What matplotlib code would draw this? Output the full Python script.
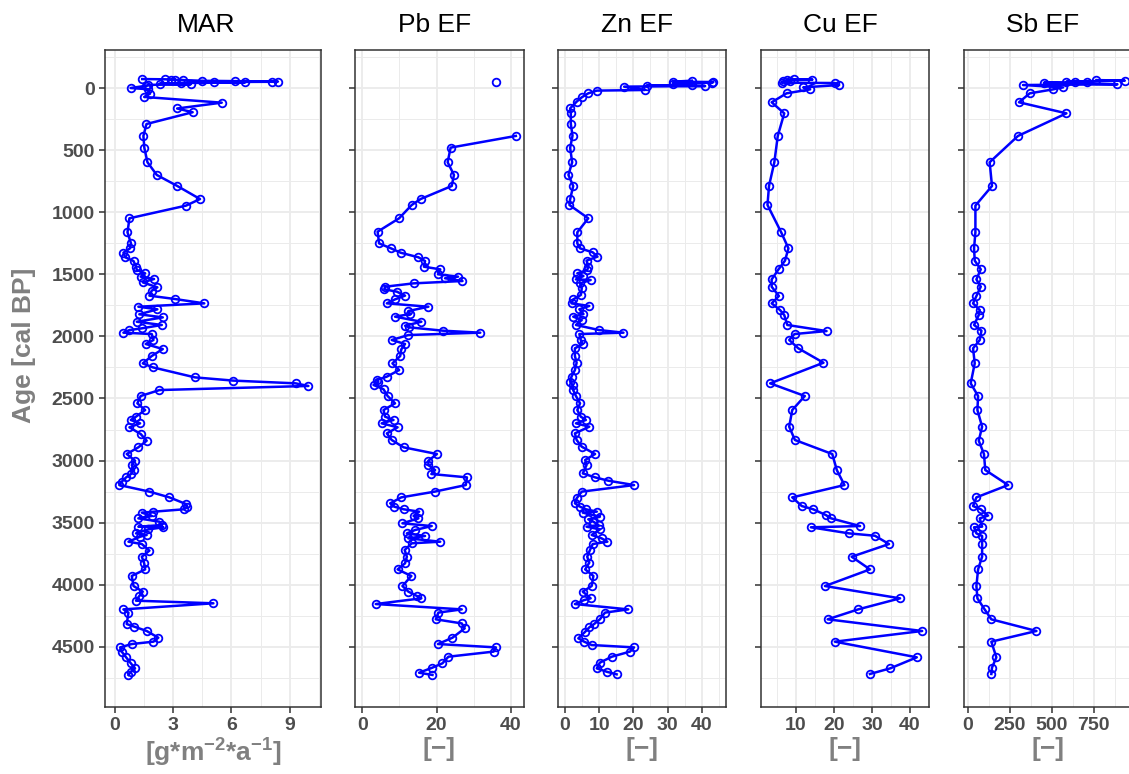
import numpy as np
import matplotlib
matplotlib.use("Agg")
import matplotlib.pyplot as plt

plt.rcParams["font.family"] = ["Liberation Sans", "DejaVu Sans"]
plt.rcParams["mathtext.fontset"] = "custom"
plt.rcParams["mathtext.rm"] = "Liberation Sans:bold"
plt.rcParams["mathtext.default"] = "rm"

# ---- data (age in cal BP, value) ----
mar_age = [-72, -70, -68, -66, -64, -58, -55, -52, -50, -48, -45, -40, -35, -30, -25, -18,
           0, 10, 46, 72, 118, 165, 195, 290, 386, 483, 598, 700, 789, 894, 947, 1049,
           1162, 1251, 1291, 1326, 1363, 1393, 1439, 1465, 1492, 1519, 1538, 1565, 1605,
           1632, 1672, 1699, 1734, 1761, 1782, 1822, 1847, 1882, 1908, 1935, 1949, 1970,
           1981, 2029, 2061, 2102, 2158, 2217, 2249, 2330, 2356, 2378, 2399, 2432, 2480,
           2539, 2593, 2646, 2673, 2700, 2732, 2786, 2840, 2893, 2947, 3001, 3036, 3076,
           3108, 3135, 3170, 3197, 3250, 3296, 3350, 3371, 3392, 3411, 3419, 3446, 3465,
           3492, 3519, 3532, 3537, 3554, 3586, 3599, 3613, 3653, 3672, 3725, 3774, 3827,
           3876, 3929, 4010, 4055, 4090, 4128, 4149, 4198, 4224, 4316, 4337, 4372, 4426,
           4458, 4477, 4504, 4538, 4584, 4632, 4673, 4700, 4726]
mar_val = [1.4, 2.6, 3.1, 2.9, 3.5, 4.5, 6.2, 8.4, 8.1, 5.1, 6.7, 3.4, 2.3, 3.9, 1.7, 1.6,
           0.8, 1.7, 1.8, 1.5, 5.5, 3.2, 4.0, 1.62, 1.46, 1.51, 1.67, 2.15, 3.21, 4.38, 3.66,
           0.74, 0.64, 0.82, 0.77, 0.43, 0.52, 0.95, 1.08, 1.12, 1.55, 1.32, 2.01, 1.43, 2.18,
           1.89, 1.77, 3.09, 4.6, 1.2, 2.18, 1.25, 2.46, 1.12, 2.41, 1.38, 0.74, 0.43,
           1.89, 1.98, 1.58, 2.46, 1.89, 1.43, 1.94, 4.12, 6.10, 9.31, 9.97, 2.29, 1.32,
           1.15, 1.55, 1.08, 0.81, 1.29, 0.74, 1.32, 1.63, 1.20, 0.60, 1.03, 0.86, 0.98,
           0.82, 0.57, 0.34, 0.22, 1.77, 2.80, 3.66, 3.73, 3.56, 1.98, 1.38, 1.89, 1.20,
           2.29, 2.41, 1.20, 2.49, 1.72, 1.08, 1.63, 1.29, 0.69, 1.38, 1.77, 1.38, 1.50,
           1.55, 0.86, 0.95, 1.43, 1.25, 1.08, 5.07, 0.43, 0.69, 0.60, 0.98, 1.63, 2.23,
           1.98, 0.86, 0.26, 0.34, 0.57, 0.81, 1.03, 0.81, 0.69]

pb_age = [-51, -40, 386, 480, 598, 700, 789, 894, 942, 1049, 1157, 1251, 1291, 1326, 1363,
          1393, 1439, 1460, 1500, 1519, 1532, 1554, 1573, 1600, 1621, 1640, 1672, 1702,
          1734, 1761, 1796, 1820, 1841, 1882, 1914, 1927, 1954, 1970, 1989, 2029, 2061,
          2104, 2158, 2217, 2271, 2324, 2351, 2365, 2391, 2426, 2480, 2539, 2593, 2646,
          2673, 2700, 2732, 2781, 2834, 2893, 2947, 3001, 3036, 3076, 3108, 3135, 3197,
          3250, 3296, 3344, 3371, 3392, 3411, 3446, 3465, 3505, 3527, 3559, 3586, 3607,
          3626, 3653, 3666, 3720, 3774, 3827, 3876, 3929, 4010, 4055, 4090, 4109, 4155,
          4198, 4224, 4278, 4311, 4351, 4426, 4477, 4504, 4538, 4579, 4632, 4667, 4708, 4726]
pb_val = [36.0, np.nan, 41.4, 23.8, 23.0, 24.7, 24.1, 15.7, 13.3, 9.9, 4.1, 4.5, 7.7, 10.3,
          15.1, 16.9, 16.6, 21.0, 20.4, 25.8, 22.3, 27.0, 13.8, 6.1, 5.9, 9.3, 11.5, 8.8,
          6.6, 17.8, 12.4, 12.9, 8.8, 15.9, 11.5, 12.6, 21.7, 31.8, 12.4, 7.9, 11.5,
          10.5, 10.2, 8.1, 9.9, 6.6, 3.9, 4.3, 3.0, 5.7, 6.8, 8.8, 5.7, 6.1,
          8.4, 5.2, 9.5, 6.6, 7.9, 11.1, 20.1, 17.8, 17.8, 19.6, 18.6, 28.2, 27.9,
          19.5, 10.5, 7.5, 8.6, 11.1, 15.3, 13.8, 15.1, 10.8, 18.7, 14.2, 12.0, 16.9,
          12.4, 21.0, 13.3, 11.4, 12.0, 11.5, 9.5, 13.2, 10.8, 12.4, 14.7, 15.9, 3.6,
          26.8, 20.5, 19.8, 26.8, 27.6, 24.3, 20.4, 36.0, 35.4, 23.2, 21.6, 18.9, 15.3, 18.9]

zn_age = [-59, -51, -48, -43, -35, -24, -20, -16, -11, 16, 21, 43, 75, 110, 164, 199, 290,
          384, 483, 598, 700, 789, 896, 942, 1049, 1162, 1251, 1291, 1323, 1358, 1390, 1439,
          1466, 1492, 1514, 1541, 1546, 1573, 1613, 1667, 1702, 1734, 1755, 1782, 1820,
          1841, 1868, 1908, 1949, 1970, 1981, 2029, 2061, 2096, 2158, 2212, 2271, 2324,
          2365, 2391, 2432, 2480, 2539, 2593, 2646, 2673, 2700, 2727, 2781, 2834, 2888,
          2947, 2995, 3036, 3103, 3135, 3162, 3197, 3250, 3304, 3344, 3371, 3392, 3411,
          3419, 3452, 3473, 3492, 3519, 3532, 3554, 3599, 3626, 3653, 3672, 3720, 3774,
          3822, 3876, 3929, 4010, 4055, 4109, 4123, 4155, 4198, 4224, 4278, 4316, 4343,
          4378, 4431, 4458, 4485, 4504, 4538, 4579, 4627, 4673, 4700, 4721]
zn_val = [37.1, 31.7, 43.4, 42.9, 31.5, 37.1, 23.9, 41.0, 17.3, 23.4, 9.3, 6.8, 4.9, 3.4,
          1.5, 1.7, 1.7, 2.2, 1.5, 2.1, 1.0, 2.4, 1.5, 1.3, 6.8, 3.6, 3.6, 4.4, 8.1, 9.5,
          6.3, 6.8, 6.5, 3.6, 5.4, 3.2, 7.5, 4.4, 4.9, 4.6, 2.4, 1.9, 7.1, 4.2, 5.4, 2.4,
          4.9, 3.2, 10.0, 17.1, 4.2, 4.6, 5.2, 2.9, 2.9, 3.4, 2.9, 1.9, 1.5, 2.2, 2.4, 3.2,
          4.4, 3.6, 4.6, 6.1, 3.2, 7.1, 2.9, 3.4, 4.9, 8.8, 5.9, 6.3, 5.2, 8.8, 12.7, 20.2,
          4.9, 3.4, 2.9, 4.4, 6.1, 9.3, 5.2, 10.2, 6.8, 8.3, 9.8, 6.3, 10.2, 7.8, 10.7,
          12.4, 8.1, 7.3, 6.5, 7.1, 5.9, 8.3, 7.8, 5.2, 7.5, 5.6, 2.9, 18.5, 11.7, 10.2,
          8.5, 7.1, 5.9, 3.9, 5.6, 7.8, 20.2, 19.0, 13.7, 10.2, 9.3, 12.2, 15.1]

cu_age = [-70, -68, -64, -60, -55, -43, -40, -24, -5, 11, 43, 115, 204, 386, 598, 789, 942,
          1162, 1291, 1390, 1460, 1541, 1600, 1675, 1734, 1788, 1828, 1908, 1957, 1981,
          2029, 2096, 2212, 2378, 2480, 2593, 2727, 2834, 2947, 3076, 3197, 3296, 3366,
          3392, 3438, 3465, 3527, 3537, 3586, 3605, 3672, 3774, 3876, 4010, 4109, 4198,
          4278, 4372, 4458, 4584, 4673, 4718]
cu_val = [9.6, 14.4, 7.6, 8.5, 6.8, 6.3, 20.3, 21.4, 12.0, 13.8, 7.6, 3.7, 7.0, 5.3, 4.4,
          3.0, 2.6, 6.2, 8.1, 7.2, 5.5, 3.7, 3.7, 5.6, 3.7, 5.9, 7.0, 7.8, 18.1, 9.7, 8.3,
          10.7, 17.3, 3.3, 12.4, 9.1, 8.3, 9.8, 19.6, 20.8, 22.8, 9.1, 11.6, 14.6, 17.9,
          19.3, 26.9, 14.0, 24.0, 30.8, 34.5, 24.7, 29.5, 17.7, 37.4, 26.4, 18.4, 43.2,
          20.3, 41.8, 34.8, 29.5]

sb_age = [-64, -59, -51, -50, -45, -43, -30, -24, -5, 11, 43, 115, 204, 386, 598, 789, 947,
          1162, 1291, 1390, 1460, 1541, 1600, 1675, 1734, 1788, 1828, 1908, 1954, 2029,
          2096, 2217, 2378, 2480, 2593, 2727, 2840, 2947, 3076, 3197, 3296, 3366, 3392,
          3443, 3465, 3532, 3537, 3586, 3607, 3672, 3774, 3876, 4010, 4109, 4198, 4278,
          4372, 4458, 4584, 4667, 4718]
sb_val = [766, 935, 587, 712, 636, 453, 891, 328, 567, 507, 368, 304, 587, 298, 129, 143, 44,
          44, 36, 40, 76, 50, 76, 50, 30, 70, 64, 36, 80, 70, 30, 40, 16, 60, 56, 84, 64,
          95, 103, 239, 50, 30, 76, 119, 70, 84, 36, 50, 84, 84, 84, 60, 50, 56, 99, 139,
          408, 139, 169, 143, 139]

titles = ["MAR", "Pb EF", "Zn EF", "Cu EF", "Sb EF"]
xlabels = [r"[g*m$^{-2}$*a$^{-1}$]", "[\u2212]", "[\u2212]", "[\u2212]", "[\u2212]"]
xticks = [[0, 3, 6, 9], [0, 20, 40], [0, 10, 20, 30, 40], [10, 20, 30, 40], [0, 250, 500, 750]]
xminor = [[1.5, 4.5, 7.5, 10.5], [10, 30], [5, 15, 25, 35, 45], [5, 15, 25, 35, 45],
          [125, 375, 625, 875]]
xlims = [(-0.52, 10.62), (-2.0, 43.6), (-2.05, 47.1), (0.9, 45.0), (-24, 978)]
yticks = list(range(0, 5000, 500))

W, H = 1129, 774
fig = plt.figure(figsize=(W / 100, H / 100), dpi=100)

# panel pixel boxes: left, right
boxes = [(105, 321), (355, 524), (558, 726), (761, 929), (964, 1132)]
top, bottom = 50, 707

data = [(mar_age, mar_val), (pb_age, pb_val), (zn_age, zn_val), (cu_age, cu_val), (sb_age, sb_val)]

grid_c = "#EBEBEB"
for i, (l, r) in enumerate(boxes):
    ax = fig.add_axes([l / W, 1 - bottom / H, (r - l) / W, (bottom - top) / H])
    age, val = data[i]
    ax.plot(val, age, color="blue", lw=1.8, zorder=3)
    ax.plot(val, age, ls="none", marker="o", ms=5.5, mfc="none", mec="blue", mew=1.3, zorder=4)
    ax.set_xlim(*xlims[i])
    ax.set_ylim(4984, -306)
    ax.set_xticks(xticks[i])
    ax.set_xticks(xminor[i], minor=True)
    ax.set_yticks(yticks)
    ax.set_yticks([250 + 500 * k for k in range(-1, 10)], minor=True)
    ax.grid(True, which="major", color=grid_c, lw=1.3, zorder=0)
    ax.grid(True, which="minor", color=grid_c, lw=0.7, zorder=0)
    ax.set_axisbelow(True)
    ax.tick_params(which="minor", length=0)
    ax.tick_params(which="major", direction="out", length=4.5, width=1.1, color="#333333",
                   labelsize=14, labelcolor="#4D4D4D", pad=3)
    for lab in ax.get_xticklabels() + ax.get_yticklabels():
        lab.set_fontweight("bold")
    for s in ax.spines.values():
        s.set_color("#333333")
        s.set_linewidth(1.1)
    if i > 0:
        ax.set_yticklabels([])
    else:
        ax.set_ylabel("Age [cal BP]", fontsize=19, fontweight="bold", color="#808080")
        ax.yaxis.set_label_coords(-0.32, 0.55)
    ax.set_title(titles[i], fontsize=19, pad=13, x=0.47)
    ax.set_xlabel(xlabels[i], fontsize=19, fontweight="bold", color="#808080", labelpad=2)

fig.savefig("out.png", dpi=100)
